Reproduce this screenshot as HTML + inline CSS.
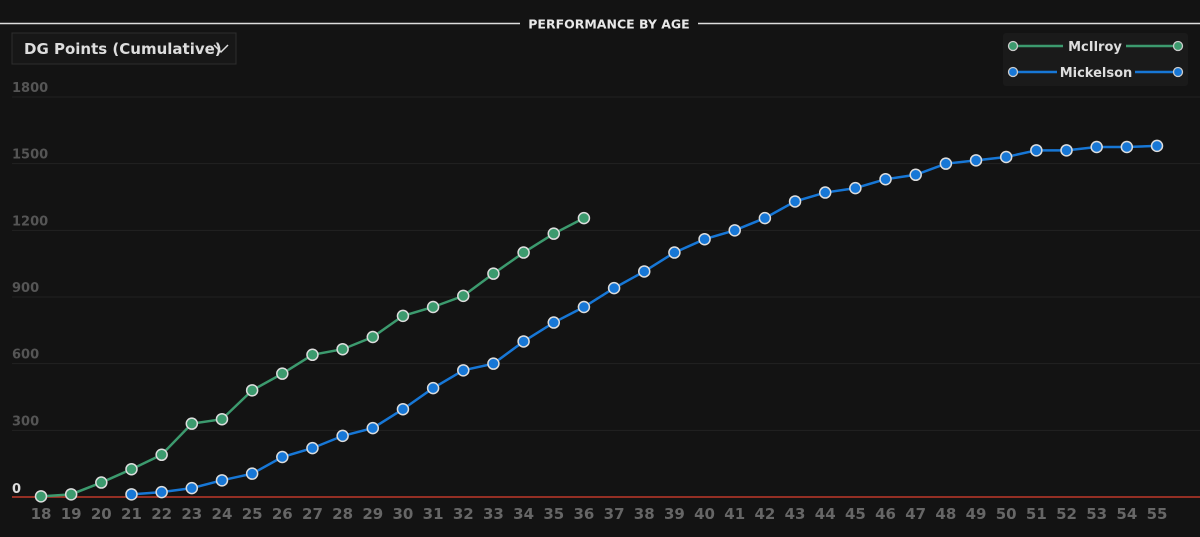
<!DOCTYPE html>
<html><head><meta charset="utf-8"><style>
body{margin:0;background:#131313;font-family:"DejaVu Sans","Liberation Sans",sans-serif;}
svg{display:block}
</style></head><body>
<svg width="1200" height="537" id="chart">
<rect width="1200" height="537" fill="#131313"/>
<line x1="0" y1="23.5" x2="1200" y2="23.5" stroke="#ddd" stroke-width="1.5"/>
<rect x="520" y="14" width="178" height="20" fill="#131313"/>
<text x="609" y="28.5" fill="#e8e8e8" font-size="12.5" font-weight="bold" text-anchor="middle">PERFORMANCE BY AGE</text>
<g>
<rect x="12" y="33" width="224" height="31" fill="#171717" stroke="#2e2e2e"/>
<text x="24" y="54" fill="#ddd" font-size="15" font-weight="bold">DG Points (Cumulative)</text>
<path d="M214 45 L221 52 L228 45" fill="none" stroke="#ddd" stroke-width="1.5"/>
</g>
<g id="grid"></g><g id="series"></g>
<g>
<rect x="1003" y="33" width="185" height="53" rx="3" fill="#1a1a1a"/>
<g>
<line x1="1013" y1="46" x2="1063" y2="46" stroke="#3c9a6e" stroke-width="2.5"/><line x1="1126" y1="46" x2="1178" y2="46" stroke="#3c9a6e" stroke-width="2.5"/>
<circle cx="1013" cy="46" r="4.5" fill="#3c9a6e" stroke="#ccc" stroke-width="1.3"/><circle cx="1178" cy="46" r="4.5" fill="#3c9a6e" stroke="#ccc" stroke-width="1.3"/>
<text x="1095" y="51" fill="#ddd" font-size="13" font-weight="bold" text-anchor="middle">McIlroy</text></g>
<g>
<line x1="1013" y1="72" x2="1057" y2="72" stroke="#1777d6" stroke-width="2.5"/><line x1="1135" y1="72" x2="1178" y2="72" stroke="#1777d6" stroke-width="2.5"/>
<circle cx="1013" cy="72" r="4.5" fill="#1777d6" stroke="#ccc" stroke-width="1.3"/><circle cx="1178" cy="72" r="4.5" fill="#1777d6" stroke="#ccc" stroke-width="1.3"/>
<text x="1096" y="77" fill="#ddd" font-size="13" font-weight="bold" text-anchor="middle">Mickelson</text></g>
</g>
</svg>
<script>
const yTicks=[0,300,600,900,1200,1500,1800];
const ages=[18,19,20,21,22,23,24,25,26,27,28,29,30,31,32,33,34,35,36,37,38,39,40,41,42,43,44,45,46,47,48,49,50,51,52,53,54,55];
const mcilroyAges=[18,19,20,21,22,23,24,25,26,27,28,29,30,31,32,33,34,35,36];
const mcilroyValues=[3,12,65,125,190,330,350,480,555,640,665,720,815,855,905,1005,1100,1185,1255];
const mickelsonAges=[21,22,23,24,25,26,27,28,29,30,31,32,33,34,35,36,37,38,39,40,41,42,43,44,45,46,47,48,49,50,51,52,53,54,55];
const mickelsonValues=[12,22,40,75,105,180,220,275,310,395,490,570,600,700,785,855,940,1015,1100,1160,1200,1255,1330,1370,1390,1430,1450,1500,1515,1530,1560,1560,1575,1575,1580];
const NS="http://www.w3.org/2000/svg";
const xs=a=>41+(a-18)*(1116/37);
const ys=v=>497-v*(400/1800);
function mk(t,at,p){const e=document.createElementNS(NS,t);for(const k in at)e.setAttribute(k,at[k]);p.appendChild(e);return e;}
const grid=document.getElementById('grid');
yTicks.forEach(t=>{
 if(t>0){const l=mk('line',{x1:12,x2:1200,y1:ys(t),y2:ys(t),stroke:'#222','stroke-width':1},grid);
 
 }
 const tx=mk('text',{x:12,y:ys(t)-(t?5:4),fill:t?'#555':'#ddd','font-size':13,'font-weight':'bold'},grid);tx.textContent=t;
 
 
});
const base=mk('line',{x1:12,x2:1200,y1:497,y2:497,stroke:'#c0392b','stroke-width':1.5},grid);


ages.forEach(a=>{const tx=mk('text',{x:xs(a),y:519,fill:'#666','font-size':15,'font-weight':'bold','text-anchor':'middle'},grid);tx.textContent=a;
 
 });
const sg=document.getElementById('series');
function draw(ax,vals,col,name){
 const g=mk('g',{},sg);
 
 
 const pl=mk('polyline',{points:ax.map((a,i)=>xs(a)+','+ys(vals[i])).join(' '),fill:'none',stroke:col,'stroke-width':2.5},g);
 
 
 ax.forEach((a,i)=>{const c=mk('circle',{cx:xs(a),cy:ys(vals[i]),r:5.5,fill:col,stroke:'#ddd','stroke-width':1.5},g);
 
 });
}
draw(mickelsonAges,mickelsonValues,'#1777d6','mickelson');
draw(mcilroyAges,mcilroyValues,'#3c9a6e','mcilroy');
</script>
</body></html>
